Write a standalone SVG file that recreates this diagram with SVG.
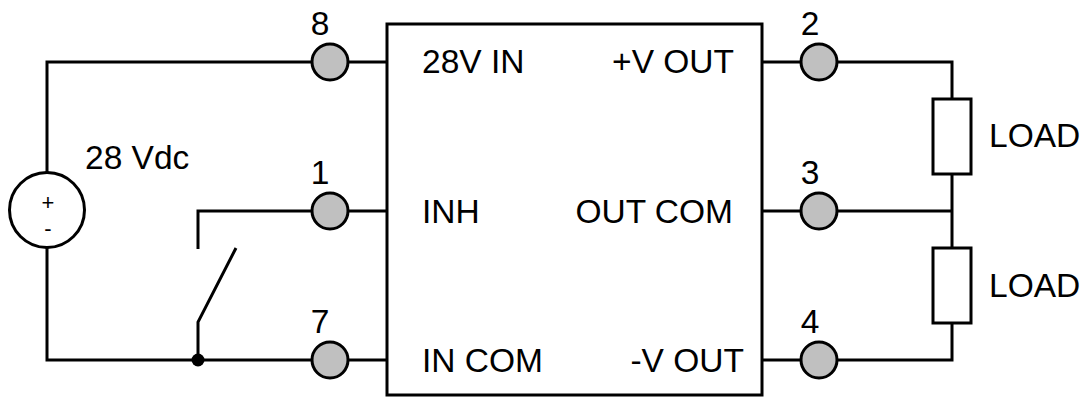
<svg xmlns="http://www.w3.org/2000/svg" width="1084" height="397" viewBox="0 0 1084 397">
<style>
.w{fill:none;stroke:#000;stroke-width:3}
.pin{fill:#c0c0c0;stroke:#000;stroke-width:3}
.t{font-family:"Liberation Sans",Arial,sans-serif;font-size:33.5px;fill:#000}
.m{text-anchor:middle}
.e{text-anchor:end}
.s{font-size:22px}
</style>
<rect width="1084" height="397" fill="#fff"/>
<g id="wires">
<path class="w" d="M311,62 H47 V173 M47,248 V360 H311"/>
<path class="w" d="M349,62 H387 M349,211 H387 M349,360 H387"/>
<path class="w" d="M311,211 H198 V249"/>
<path class="w" d="M198,360 V322 L236,248"/>
<path class="w" d="M762,62 H800 M762,211 H800 M762,360 H800"/>
<path class="w" d="M838,62 H952 V99 M952,174 V248 M838,211 H952 M952,323 V360 H838"/>
<circle cx="198" cy="360" r="6.5" fill="#000"/>
</g>
<g id="module">
<rect class="w" x="387" y="24" width="375" height="371" fill="#fff"/>
<text class="t" x="422" y="73">28V IN</text>
<text class="t" x="422" y="223">INH</text>
<text class="t" x="422" y="372">IN COM</text>
<text class="t e" x="734" y="73">+V OUT</text>
<text class="t e" x="733" y="223">OUT COM</text>
<text class="t e" x="744" y="372">-V OUT</text>
</g>
<g id="source">
<circle class="w" cx="47" cy="210" r="37.5" fill="#fff"/>
<text class="t m s" x="48" y="210">+</text>
<text class="t m s" x="48" y="236">-</text>
<text class="t" x="85" y="169">28 Vdc</text>
</g>
<g id="pin8"><circle class="pin" cx="330" cy="62" r="18"/><text class="t m" x="320" y="35">8</text></g>
<g id="pin1"><circle class="pin" cx="330" cy="211" r="18"/><text class="t m" x="320" y="184">1</text></g>
<g id="pin7"><circle class="pin" cx="330" cy="360" r="18"/><text class="t m" x="320" y="333">7</text></g>
<g id="pin2"><circle class="pin" cx="819" cy="62" r="18"/><text class="t m" x="810" y="35">2</text></g>
<g id="pin3"><circle class="pin" cx="819" cy="211" r="18"/><text class="t m" x="810" y="184">3</text></g>
<g id="pin4"><circle class="pin" cx="819" cy="360" r="18"/><text class="t m" x="810" y="333">4</text></g>
<g id="load1"><rect class="w" x="933" y="99" width="38" height="75" fill="#fff"/><text class="t" x="989" y="147">LOAD</text></g>
<g id="load2"><rect class="w" x="933" y="248" width="38" height="75" fill="#fff"/><text class="t" x="989" y="297">LOAD</text></g>
</svg>
